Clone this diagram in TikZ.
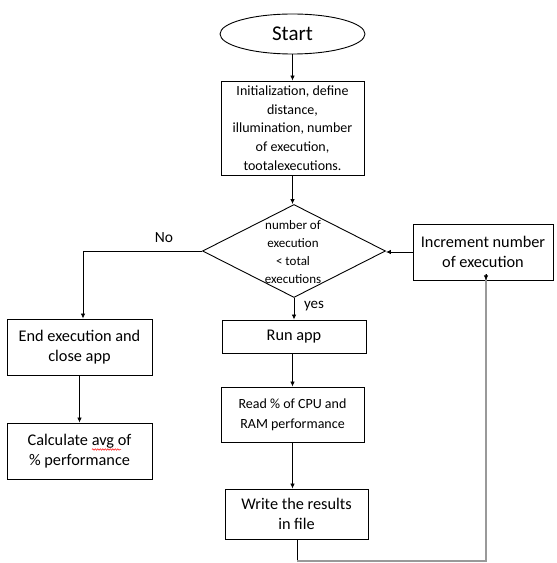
\documentclass[tikz,border=0pt]{standalone}
\usepackage{fontspec}
\setmainfont{Carlito}
\usetikzlibrary{shapes.geometric,arrows.meta,decorations.pathmorphing}
\begin{document}
\begin{tikzpicture}[x=1bp,y=-1bp,
  box/.style={draw=black,line width=0.9bp,rectangle,inner sep=0pt,align=center,fill=white},
  arr/.style={draw=black,line width=0.8bp,-{Latex[length=5bp,width=4.5bp]}},
  back/.style={draw=black!40,line width=1.4bp},
  big/.style={font=\fontsize{16.3bp}{20bp}\selectfont},
  small/.style={font=\fontsize{14bp}{18.7bp}\selectfont},
  lbl/.style={font=\fontsize{15.5bp}{18bp}\selectfont,inner sep=0pt}
]
\useasboundingbox (0,0) rectangle (557,563);
\fill[white] (0,0) rectangle (557,563);

\node[draw=black,line width=0.9bp,ellipse,minimum width=145bp,minimum height=40bp,inner sep=0pt,
  font=\fontsize{21bp}{24bp}\selectfont] (start) at (292.5,34) {Start};

\node[box,small,minimum width=143bp,minimum height=94bp] (init) at (292.5,128)
  {Initialization, define\\distance,\\illumination, number\\of execution,\\tootalexecutions.};

\node[draw=black,line width=0.9bp,diamond,minimum width=183bp,minimum height=93bp,inner sep=0pt] (dec) at (294,251) {};
\node[align=center,font=\fontsize{13bp}{17.7bp}\selectfont,inner sep=0pt] (dectext) at (293,252)
  {number of\\execution\\< total\\executions};

\node[box,big,minimum width=140bp,minimum height=56bp] (inc) at (483,252) {Increment number\\of execution};
\node[box,big,minimum width=145bp,minimum height=56bp] (endex) at (79.5,347) {End execution and\\close app};
\node[box,big,minimum width=145bp,minimum height=56bp] (calc) at (79.5,451) {Calculate avg of\\\% performance};
\node[box,big,minimum width=144bp,minimum height=33bp] (run) at (294,336.5) {Run app};
\node[box,small,minimum width=143bp,minimum height=55bp,font=\fontsize{14bp}{20bp}\selectfont] (read) at (292.5,414.5) {Read \% of CPU and\\RAM performance};
\node[box,big,minimum width=143bp,minimum height=50bp] (write) at (296.5,514) {Write the results\\in file};

\node[lbl] (no) at (164,238) {No};
\node[lbl,font=\fontsize{15bp}{18bp}\selectfont] (yes) at (314,306) {yes};

\coordinate (noturn) at (83,251);
\coordinate (b1) at (297,561);
\coordinate (b2) at (486,561);

\draw[arr] (start.south) -- (start.south |- init.north);
\draw[arr] (init.south) -- (init.south |- dec.north);
\draw[arr] (inc.west) -- (inc.west -| dec.east);
\draw[arr] (dec.west) -- (noturn) -- (noturn |- endex.north);
\draw[arr] (endex.south) -- (calc.north);
\draw[arr] (dec.south) -- (dec.south |- run.north);
\draw[arr] (run.south -| read.north) -- (read.north);
\draw[arr] (read.south) -- (read.south |- write.north);
\draw[line width=0.8bp] (write.south -| b1) -- (b1);
\draw[back] (b1) -- (b2) -- ([yshift=6bp]b2 |- inc.south);
\draw[arr] ([yshift=6bp]b2 |- inc.south) -- (b2 |- inc.south);

\draw[red,line width=0.5bp,decorate,decoration={snake,segment length=2.5bp,amplitude=0.7bp}]
  (92,449.5) -- (121,449.5);
\end{tikzpicture}
\end{document}
